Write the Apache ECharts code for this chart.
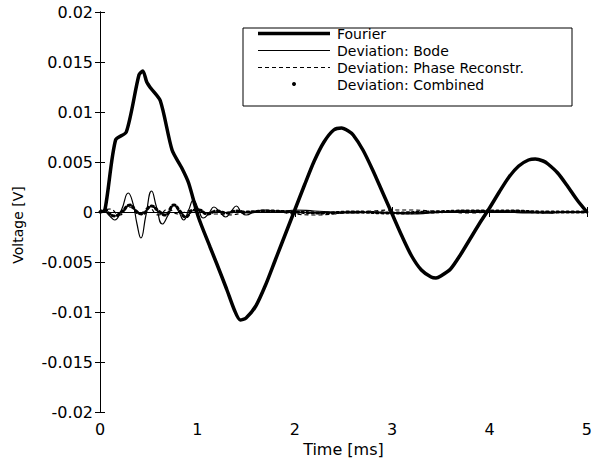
<!DOCTYPE html>
<html>
<head>
<meta charset="utf-8">
<script src="https://cdn.jsdelivr.net/npm/echarts@6/dist/echarts.min.js"></script>
<style>
html,body{margin:0;padding:0;background:#fff;}
#chart{width:595px;height:463px;}
</style>
</head>
<body>
<div id="chart"></div>
<script>
// ---- data ----
var seriesNames = ['Fourier', 'Deviation: Bode', 'Deviation: Phase Reconstr.', 'Deviation: Combined'];

var fourierT = [0, 0.05, 0.16, 0.27, 0.40, 0.44, 0.48, 0.52, 0.62, 0.74, 0.84, 0.91, 1.01, 1.13, 1.2, 1.3, 1.38, 1.44, 1.5, 1.6, 1.7, 1.8, 1.9, 2.0, 2.1, 2.2, 2.3, 2.4, 2.48, 2.55, 2.6, 2.7, 2.8, 2.9, 3.0, 3.1, 3.2, 3.3, 3.4, 3.45, 3.5, 3.6, 3.7, 3.8, 3.9, 4.0, 4.1, 4.2, 4.3, 4.4, 4.47, 4.55, 4.6, 4.7, 4.8, 4.9, 5.0];
var fourierV = [0, 0.0002, 0.0072, 0.0080, 0.0137, 0.0141, 0.0130, 0.0124, 0.0111, 0.0062, 0.0044, 0.0029, -0.0005, -0.0035, -0.0052, -0.0077, -0.0098, -0.0108, -0.0106, -0.0094, -0.0073, -0.0048, -0.0023, 0.0002, 0.0027, 0.0051, 0.0070, 0.0082, 0.0084, 0.0081, 0.0077, 0.0062, 0.0042, 0.0020, -0.0002, -0.0024, -0.0044, -0.0058, -0.0065, -0.0066, -0.0064, -0.0057, -0.0043, -0.0027, -0.0011, 0.0004, 0.0020, 0.0035, 0.0046, 0.0052, 0.0053, 0.0051, 0.0048, 0.0039, 0.0026, 0.0012, 0.0000];

var bodeT = [0, 0.05, 0.10, 0.15, 0.22, 0.29, 0.34, 0.38, 0.42, 0.47, 0.53, 0.58, 0.64, 0.70, 0.76, 0.81, 0.86, 0.91, 0.96, 1.01, 1.06, 1.12, 1.17, 1.23, 1.29, 1.35, 1.40, 1.45, 1.5, 1.6, 1.7, 1.8, 1.9, 2.0, 2.2, 2.4, 2.6, 2.8, 3.0, 3.2, 3.4, 3.6, 3.8, 4.0, 4.2, 4.4, 4.6, 4.8, 5.0];
var bodeV = [0, 0, -0.0004, -0.0008, 0.0002, 0.0019, 0.0008, -0.0012, -0.0026, -0.0004, 0.0021, 0.0005, -0.0012, -0.0003, 0.0007, 0.0000, -0.0008, 0.0002, 0.0012, 0.0003, -0.0006, -0.0001, 0.0005, 0.0000, -0.0005, 0.0001, 0.0006, 0.0000, -0.0003, 0.0001, 0.0002, 0.0001, 0.0001, 0.0002, 0.0001, 0.0000, -0.0001, 0.0000, -0.0001, -0.0002, -0.0001, 0.0000, 0.0001, 0.0001, 0.0000, -0.0001, -0.0001, 0.0000, 0.0000];

var phaseT = [0, 0.1, 0.2, 0.3, 0.4, 0.5, 0.6, 0.7, 0.8, 0.9, 1.0, 1.1, 1.2, 1.3, 1.5, 1.8, 2.0, 2.2, 2.4, 2.6, 2.8, 3.0, 3.2, 3.4, 3.6, 3.8, 4.0, 4.2, 4.4, 4.6, 4.8, 5.0];
var phaseV = [0, 0.0003, -0.0003, 0.0005, -0.0002, 0.0004, -0.0003, 0.0003, -0.0002, 0.0001, 0.0003, -0.0002, -0.0002, -0.0003, -0.0001, 0.0000, -0.0002, -0.0003, -0.0002, 0.0000, 0.0001, 0.0002, 0.0002, 0.0001, 0.0000, -0.0001, 0.0000, 0.0001, 0.0000, -0.0001, 0.0000, 0.0000];

var combT = [0, 0.05, 0.10, 0.15, 0.22, 0.31, 0.37, 0.43, 0.53, 0.60, 0.67, 0.76, 0.82, 0.88, 0.96, 1.02, 1.10, 1.20, 1.30, 1.40, 1.50, 1.70, 2.0, 2.3, 2.6, 3.0, 3.4, 3.8, 4.2, 4.6, 5.0];
var combV = [0, 0.0002, -0.0002, -0.0004, 0.0000, 0.0007, 0.0001, -0.0002, 0.0006, 0.0001, -0.0003, 0.0007, 0.0001, -0.0005, 0.0002, 0.0002, -0.0002, 0.0001, -0.0001, 0.0001, 0.0000, 0.0001, 0.0000, -0.0001, 0.0000, -0.0001, 0.0000, 0.0001, 0.0001, 0.0000, 0.0000];

var xTicks = [0, 1, 2, 3, 4, 5];
var yTickLabels = ['-0.02', '-0.015', '-0.01', '-0.005', '0', '0.005', '0.01', '0.015', '0.02'];

function pairs(t, v) { return t.map(function (x, i) { return [x, v[i]]; }); }

var FONT = 'DejaVu Sans';
var chart = echarts.init(document.getElementById('chart'), null, {renderer: 'svg'});

var axisCommon = {
  axisLine: {show: true, lineStyle: {color: '#000', width: 1}},
  axisTick: {show: true, inside: true, length: 5, lineStyle: {color: '#000'}},
  splitLine: {show: false}
};

var legendRowsY = [33.5, 50.5, 67.5, 84.5];
var legendTexts = seriesNames.map(function (n, i) {
  return {type: 'text', x: 337, y: legendRowsY[i], z: 101,
    style: {text: n, fontFamily: FONT, fontSize: 14, fill: '#000', verticalAlign: 'middle'}};
});

var option = {
  animation: false,
  backgroundColor: '#fff',
  grid: {left: 100, right: 3, top: 12, bottom: 51, containLabel: false},
  xAxis: [
    Object.assign({
      type: 'value', min: xTicks[0], max: xTicks[xTicks.length - 1], interval: 1,
      position: 'bottom',
      name: 'Time [ms]', nameLocation: 'middle', nameGap: 29,
      nameTextStyle: {fontFamily: FONT, fontSize: 16, color: '#000'},
      axisLabel: {fontFamily: FONT, fontSize: 16, color: '#000', margin: 9}
    }, axisCommon),
    Object.assign({
      type: 'value', min: xTicks[0], max: xTicks[xTicks.length - 1], interval: 1,
      position: 'top', axisLabel: {show: false}
    }, axisCommon)
  ],
  yAxis: [
    Object.assign({
      type: 'value', min: -0.02, max: 0.02, interval: 0.005,
      position: 'left',
      axisLabel: {fontFamily: FONT, fontSize: 16, color: '#000', margin: 7,
        formatter: function (v) {
          var idx = Math.round((v + 0.02) / 0.005);
          return yTickLabels[idx];
        }}
    }, axisCommon),
    Object.assign({
      type: 'value', min: -0.02, max: 0.02, interval: 0.005,
      position: 'right', axisLabel: {show: false}
    }, axisCommon)
  ],
  graphic: [
    {type: 'text', rotation: Math.PI / 2, x: 18, y: 225,
      style: {text: 'Voltage [V]', fontFamily: FONT, fontSize: 14, fill: '#000', align: 'center', verticalAlign: 'middle'}},
    // legend box
    {type: 'rect', shape: {x: 243, y: 28, width: 329, height: 78}, style: {fill: '#fff', stroke: '#000', lineWidth: 1}, z: 100},
    {type: 'line', shape: {x1: 258, y1: 33.5, x2: 330, y2: 33.5}, style: {stroke: '#000', lineWidth: 3.5}, z: 101},
    {type: 'line', shape: {x1: 258, y1: 50.5, x2: 330, y2: 50.5}, style: {stroke: '#000', lineWidth: 1}, z: 101},
    {type: 'line', shape: {x1: 258, y1: 67.5, x2: 330, y2: 67.5}, style: {stroke: '#000', lineWidth: 1, lineDash: [4, 3]}, z: 101},
    {type: 'circle', shape: {cx: 294, cy: 84, r: 2}, style: {fill: '#000'}, z: 101}
  ].concat(legendTexts),
  series: [
    {name: seriesNames[1], type: 'line', data: pairs(bodeT, bodeV), showSymbol: false, symbol: 'none', smooth: 0.5,
      lineStyle: {color: '#000', width: 1.2}},
    {name: seriesNames[2], type: 'line', data: pairs(phaseT, phaseV), showSymbol: false, symbol: 'none', smooth: 0.5,
      lineStyle: {color: '#000', width: 1.2, type: [4, 3]}},
    {name: seriesNames[3], type: 'line', data: pairs(combT, combV), showSymbol: false, symbol: 'none', smooth: 0.5,
      lineStyle: {color: '#000', width: 3, type: [2, 3], cap: 'round'}},
    {name: seriesNames[0], type: 'line', data: pairs(fourierT, fourierV), showSymbol: false, symbol: 'none', smooth: 0.25,
      lineStyle: {color: '#000', width: 3.5}}
  ]
};
chart.setOption(option);
</script>
</body>
</html>
